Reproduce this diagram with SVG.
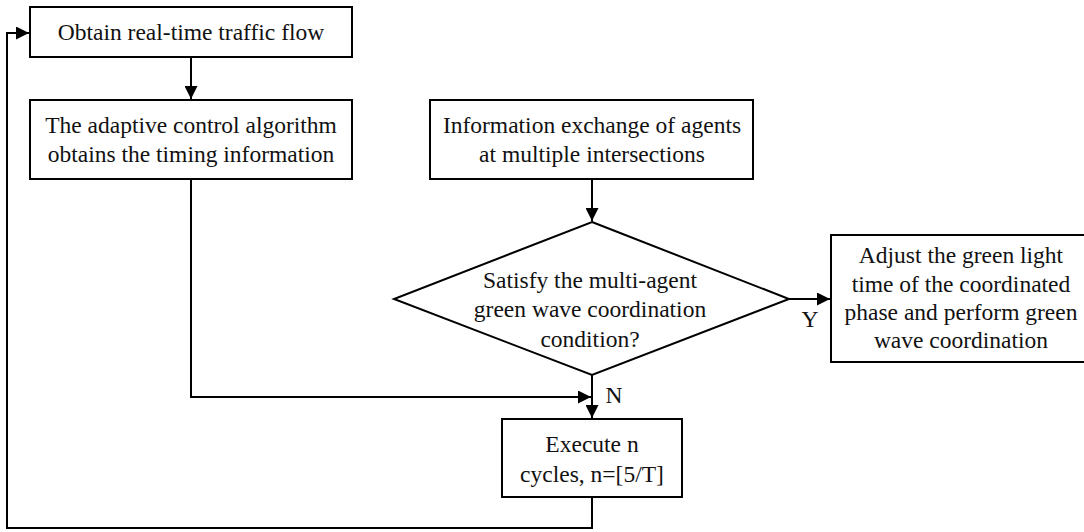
<svg xmlns="http://www.w3.org/2000/svg" width="1084" height="532" viewBox="0 0 1084 532">
<style>
.n{fill:#fff;stroke:#000;stroke-width:2}
.t{font-size:23.5px;fill:#111;text-anchor:middle}
.c{fill:none;stroke:#000;stroke-width:2}
</style>
<defs>
<marker id="a" viewBox="0 0 10 10" refX="10" refY="5" markerWidth="13" markerHeight="13" markerUnits="userSpaceOnUse" orient="auto">
<path d="M0,0 L10,5 L0,10 Z" fill="#000"/>
</marker>
</defs>
<g font-family="'Liberation Serif', 'DejaVu Serif', serif">
<g id="connectors">
<path class="c" d="M191,57 V99" marker-end="url(#a)"/>
<path class="c" d="M592,179 V221" marker-end="url(#a)"/>
<path class="c" d="M789,299 H830" marker-end="url(#a)"/>
<path class="c" d="M592,375 V418" marker-end="url(#a)"/>
<path class="c" d="M191,179 V397 H591" marker-end="url(#a)"/>
<path class="c" d="M592,497 V528 H7 V33 H29" marker-end="url(#a)"/>
<text class="t" x="810" y="327">Y</text>
<text class="t" x="614" y="403">N</text>
</g>
<g id="obtain">
<rect class="n" x="30" y="7" width="322" height="50"/>
<text class="t" x="191" y="40">Obtain real-time traffic flow</text>
</g>
<g id="adaptive">
<rect class="n" x="30" y="100" width="322" height="79"/>
<text class="t" x="191" y="133">The adaptive control algorithm</text>
<text class="t" x="191" y="162">obtains the timing information</text>
</g>
<g id="exchange">
<rect class="n" x="430" y="100" width="323" height="79"/>
<text class="t" x="592" y="133">Information exchange of agents</text>
<text class="t" x="592" y="162">at multiple intersections</text>
</g>
<g id="decision">
<polygon class="n" points="592,222 789,299 592,375 394,299"/>
<text class="t" x="590" y="288">Satisfy the multi-agent</text>
<text class="t" x="590" y="317">green wave coordination</text>
<text class="t" x="590" y="347">condition?</text>
</g>
<g id="adjust">
<rect class="n" x="831" y="235" width="260" height="127"/>
<text class="t" x="961" y="263">Adjust the green light</text>
<text class="t" x="961" y="292">time of the coordinated</text>
<text class="t" x="961" y="320">phase and perform green</text>
<text class="t" x="961" y="348">wave coordination</text>
</g>
<g id="execute">
<rect class="n" x="502" y="419" width="180" height="78"/>
<text class="t" x="592" y="452">Execute n</text>
<text class="t" x="592" y="482">cycles, n=[5/T]</text>
</g>
</g>
</svg>
